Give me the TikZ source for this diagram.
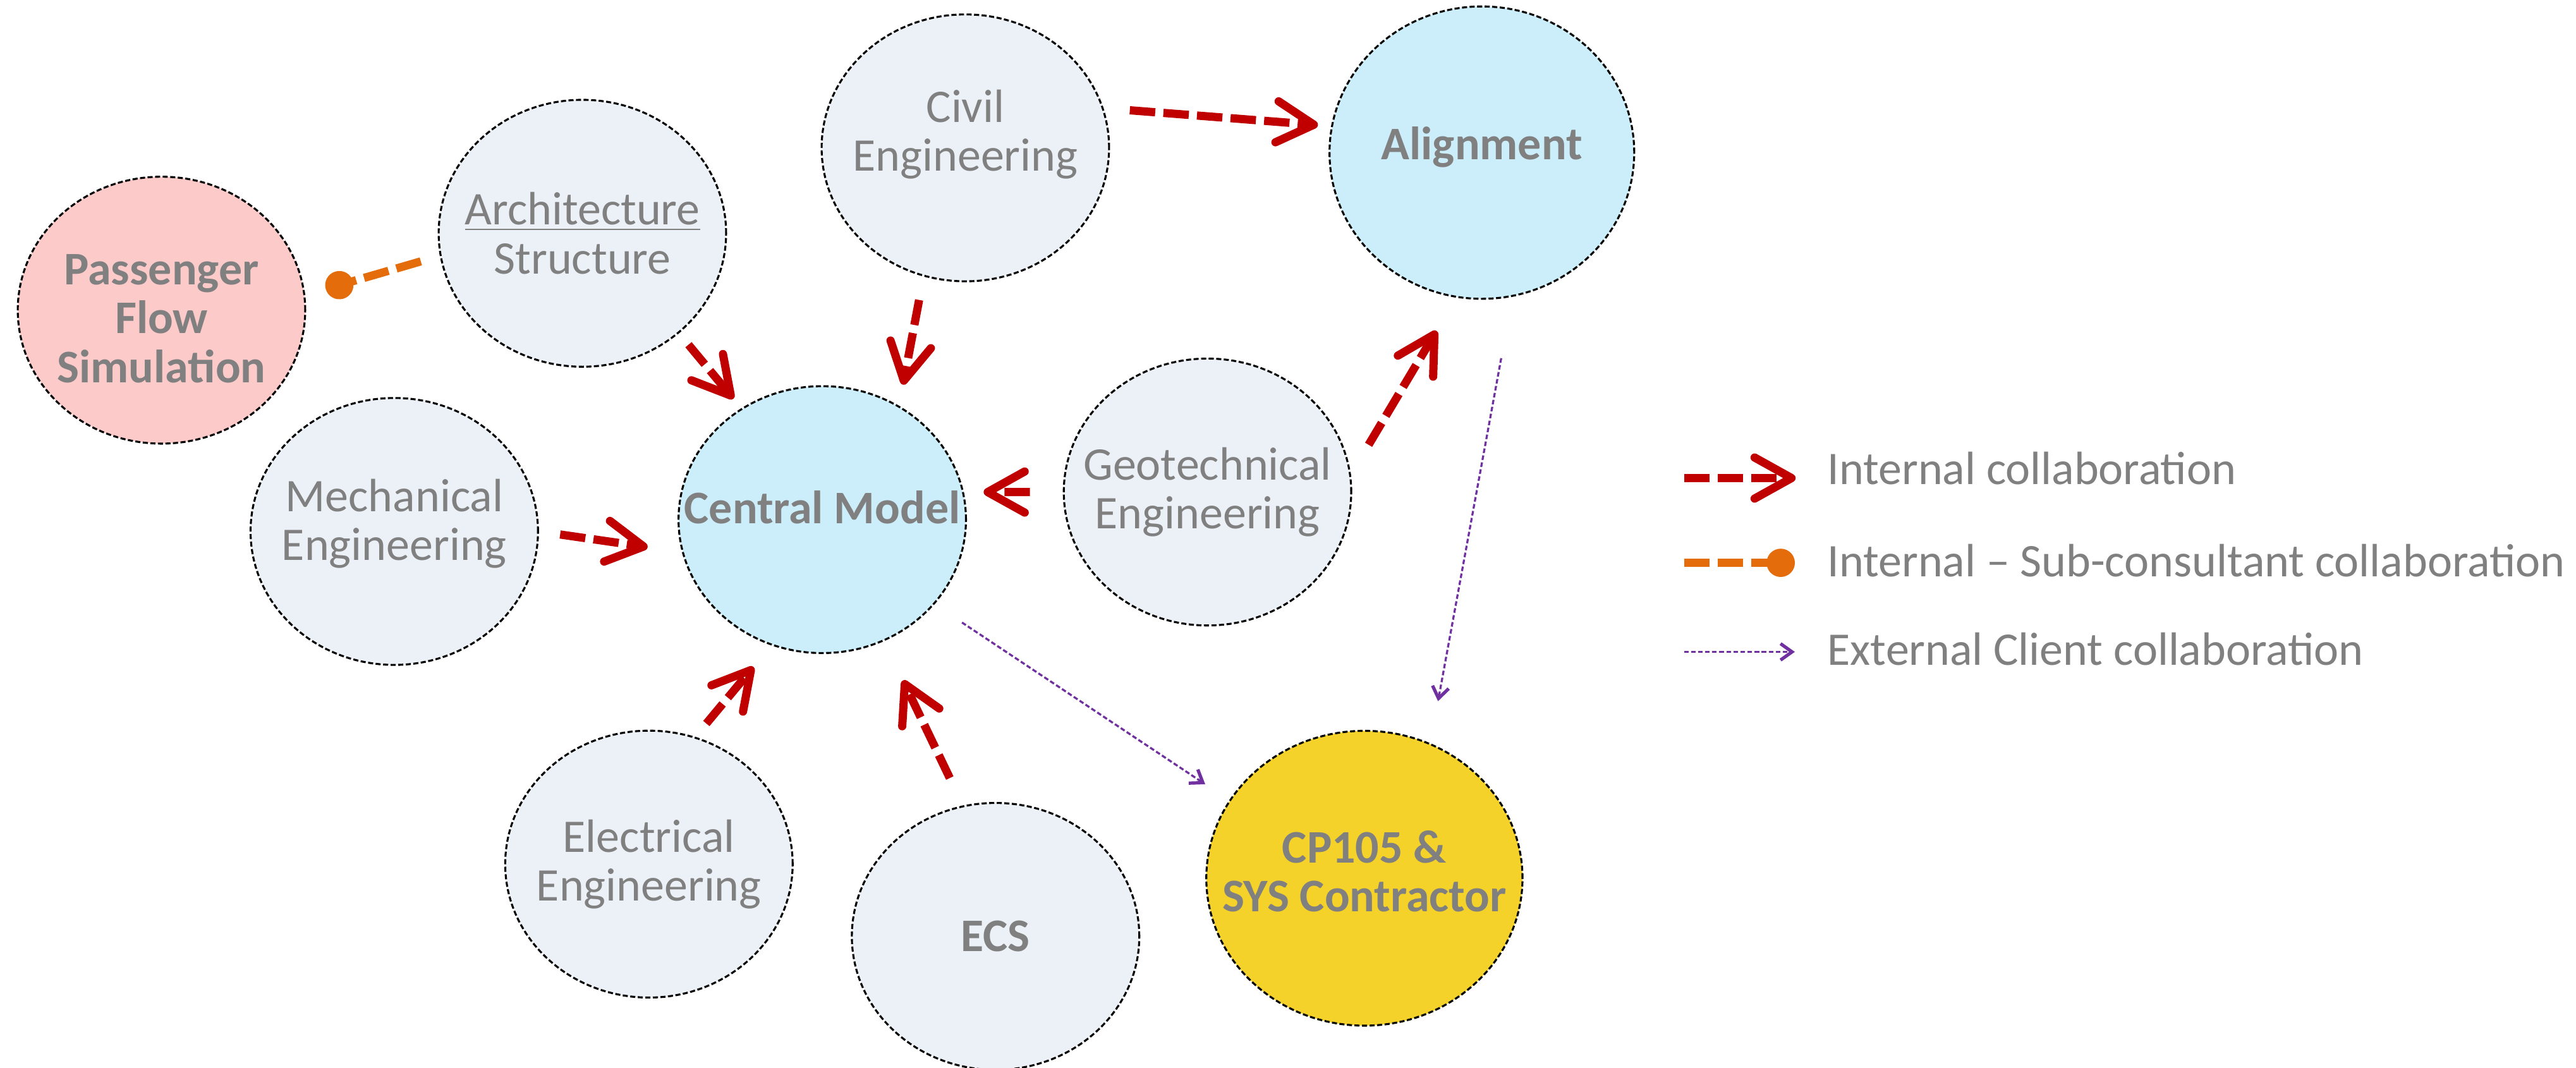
\documentclass[tikz,border=0pt]{standalone}
\usepackage{fontspec}
\setmainfont{Carlito}
\usetikzlibrary{shapes.geometric, arrows.meta}

\definecolor{unitfill}{RGB}{236,241,248}
\definecolor{hubfill}{RGB}{204,238,250}
\definecolor{paxfill}{RGB}{253,202,202}
\definecolor{cpfill}{RGB}{245,210,41}
\definecolor{labelgray}{RGB}{128,128,128}
\definecolor{intred}{RGB}{192,0,0}
\definecolor{suborange}{RGB}{228,108,10}
\definecolor{extpurple}{RGB}{112,48,160}

\tikzset{
  unit/.style={ellipse, draw=black, line width=0.024cm,
    dash pattern=on 0.062cm off 0.03cm, fill=unitfill, text=labelgray,
    font=\fontsize{16.2}{16.9}\selectfont, align=center,
    inner xsep=-0.8cm, inner ysep=-0.6cm,
    minimum width=3.5cm, minimum height=3.25cm},
  hub/.style={unit, fill=hubfill, font=\fontsize{16.2}{16.9}\selectfont\bfseries},
  intarrow/.style={draw=intred, line width=0.1cm, dash pattern=on 0.31cm off 0.1cm,
    -{Straight Barb[length=0.45cm, width=0.5cm, round]}},
  subarrow/.style={draw=suborange, line width=0.1cm, dash pattern=on 0.31cm off 0.1cm,
    -{Circle[length=0.344cm]}},
  extarrow/.style={draw=extpurple, line width=0.025cm, dash pattern=on 0.056cm off 0.03cm,
    -{Straight Barb[length=0.14cm, width=0.2cm, line width=0.04cm]}},
  legtext/.style={text=labelgray, font=\fontsize{16.2}{16.9}\selectfont,
    inner sep=0pt, anchor=base west}
}

\begin{document}
\begin{tikzpicture}[x=0.02cm, y=-0.02cm]
  \useasboundingbox (0,0) rectangle (1568,650);

  % Disciplines
  \node[hub, fill=paxfill, text height=1.76cm, text depth=0cm] (pax) at (98.3,188.8) {Passenger\\Flow\\Simulation};
  \node[unit] (arch) at (354.5,142) {\underline{Architecture}\\Structure};
  \node[unit, text height=0.97cm, text depth=0.41cm] (civil) at (587.6,90) {Civil\\Engineering};
  \node[hub, text height=0.38cm, text depth=0.21cm, minimum width=3.71cm, minimum height=3.56cm] (align) at (902,92.9) {Alignment};
  \node[hub, text height=0.38cm, text depth=0.29cm] (central) at (500.5,316.3) {Central Model};
  \node[unit, text height=0.97cm, text depth=0.27cm] (mech) at (240,323.5) {Mechanical\\Engineering};
  \node[unit] (geo) at (735,299.5) {Geotechnical\\Engineering};
  \node[unit] (elec) at (395,526) {Electrical\\Engineering};
  \node[hub, fill=unitfill] (ecs) at (606,570) {ECS};
  \node[hub, fill=cpfill, text height=0.97cm, text depth=0.16cm, minimum width=3.85cm, minimum height=3.59cm] (cp) at (830.5,534.6) {CP105 \&\\SYS Contractor};

  % Internal collaboration
  \draw[intarrow, shorten <=0.32cm, shorten >=0.16cm] (civil.16) -- (align.170);
  \draw[intarrow, shorten <=0.18cm, shorten >=0.15cm] (arch.-46) -- (central.126);
  \draw[intarrow, shorten <=0.29cm, shorten >=0.26cm] (civil.-108) -- (central.56);
  \draw[intarrow, shorten <=0.26cm, shorten >=0.42cm] (mech.0) -- (central.193);
  \draw[intarrow, shorten <=0.40cm, shorten >=0.24cm] (geo.180) -- (central.11);
  \draw[intarrow, shorten <=0.42cm, shorten >=0.47cm] (geo.7) -- (align.-100);
  \draw[intarrow, shorten <=0.21cm, shorten >=0.34cm] (elec.70) -- (central.-112);
  \draw[intarrow, shorten <=0.37cm, shorten >=0.53cm] (ecs.104) -- (central.-63);

  % Sub-consultant
  \draw[subarrow, shorten <=0.24cm, shorten >=0.26cm] (arch.189) -- (pax.6);

  % External client
  \draw[extarrow, shorten <=0.40cm, shorten >=0.35cm] (central.-37) -- (cp.150);
  \draw[extarrow, shorten <=0.76cm, shorten >=0.52cm] (align.-78) -- (cp.64);

  % Legend
  \node[legtext] (legint) at (1112,294.8) {Internal collaboration};
  \node[legtext] (legsub) at (1112,351.2) {Internal -- Sub-consultant collaboration};
  \node[legtext] (legext) at (1112,405) {External Client collaboration};
  \coordinate (legint-s) at (1025,291);
  \coordinate (legsub-s) at (1025,342.6);
  \coordinate (legext-s) at (1025,396.8);
  \draw[intarrow, shorten >=0.38cm] (legint-s) -- (legint-s -| legint.west);
  \draw[subarrow, shorten >=0.39cm] (legsub-s) -- (legsub-s -| legsub.west);
  \draw[extarrow, shorten >=0.39cm] (legext-s) -- (legext-s -| legext.west);
\end{tikzpicture}
\end{document}
